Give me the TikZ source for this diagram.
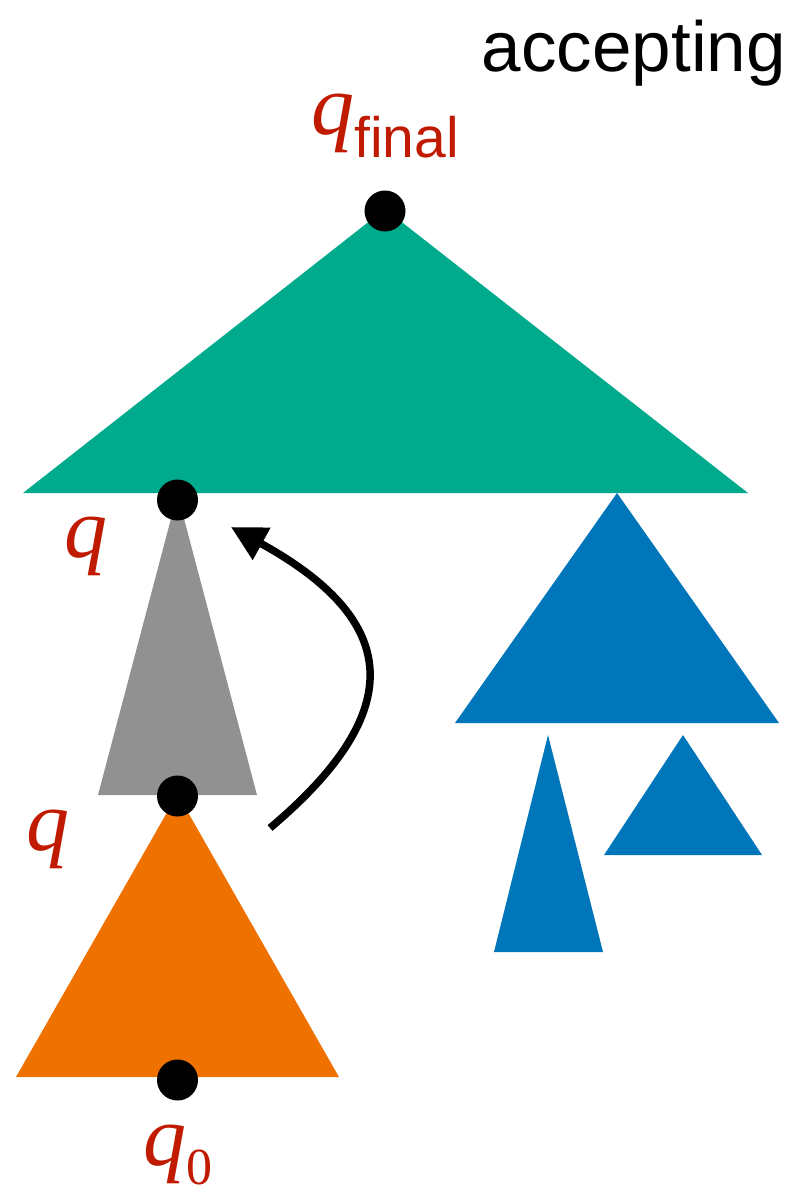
\documentclass[tikz,border=0pt]{standalone}
\usepackage{fontspec}
\setmainfont{Liberation Serif}
\newfontfamily\hv{Liberation Sans}
\usetikzlibrary{arrows.meta}
\definecolor{cgreen}{HTML}{00AA8D}
\definecolor{cgray}{HTML}{919191}
\definecolor{corange}{HTML}{EF7100}
\definecolor{cblue}{HTML}{0076BA}
\definecolor{cred}{HTML}{C01A00}
\tikzset{
  dot/.style={circle,fill=black,draw=none,minimum size=41pt,inner sep=0pt},
  qlabel/.style={text=cred,inner sep=0pt,anchor=base,font=\fontsize{86}{86}\selectfont\itshape},
  arc/.style={line width=7.5pt,-{Triangle[length=35pt,width=35pt]}}
}
\begin{document}
\begin{tikzpicture}[x=1pt,y=-1pt]
\useasboundingbox (0,0) rectangle (800,1196);
% triangles
\fill[cgreen] (385,209) -- (748,493) -- (23,493) -- cycle;
\fill[cgray] (177.5,494) -- (257,795) -- (98,795) -- cycle;
\fill[corange] (177.5,794) -- (339,1077) -- (16,1077) -- cycle;
\fill[cblue] (617,493) -- (779,723) -- (455,723) -- cycle;
\fill[cblue] (548,735) -- (603,952) -- (494,952) -- cycle;
\fill[cblue] (683,735) -- (762,855) -- (604,855) -- cycle;
% dots
\node[dot] (top) at (385,211) {};
\node[dot] (qa) at (177.5,500) {};
\node[dot] (qb) at (177.5,796) {};
\node[dot] (q0) at (177.5,1080) {};
% labels
\node[qlabel] (lfinal) at (385,135) {q\raisebox{-23pt}{\upshape\hv\fontsize{57}{57}\selectfont final}};
\node[qlabel] (lqa) at (86,557) {q};
\node[qlabel] (lqb) at (48,850) {q};
\node[qlabel] (lq0) at (177.5,1165) {q\raisebox{-19pt}{\upshape\fontsize{52}{52}\selectfont 0}};
\node[inner sep=0pt,anchor=base east,font=\hv\fontsize{71}{71}\selectfont] (acc) at (786,72) {accepting};
% arrow
\coordinate (as) at (270,828);
\coordinate (ae) at (231,527);
\draw[arc] (as) .. controls (410,710) and (400,620) .. (ae);
\end{tikzpicture}
\end{document}
